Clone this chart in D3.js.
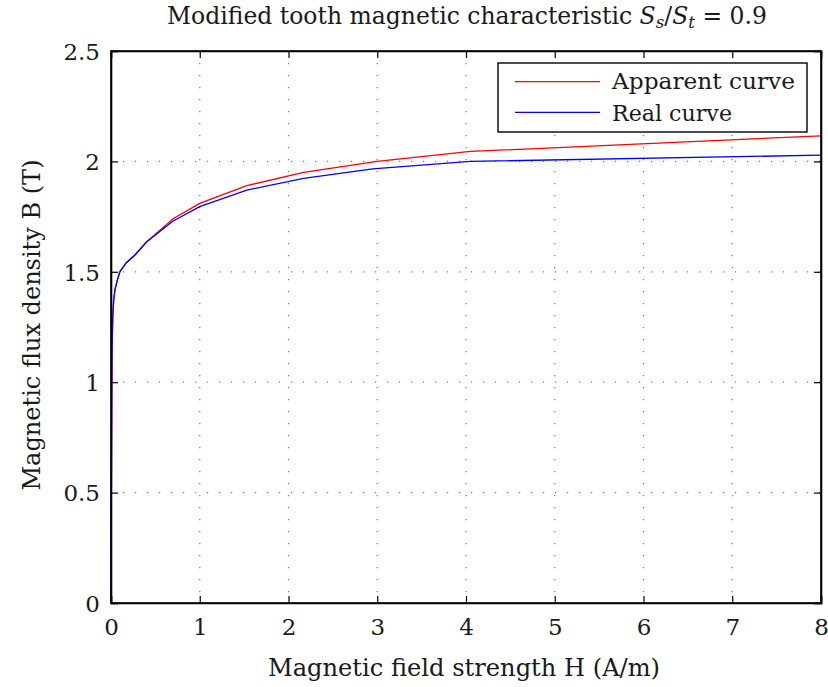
<!DOCTYPE html>
<html><head><meta charset="utf-8">
<script src="https://cdn.jsdelivr.net/npm/d3@7"></script>
<style>body{margin:0;background:#fff}</style>
</head><body><svg id="c" width="828" height="687"></svg>
<script>
const xTicks = [0,1,2,3,4,5,6,7,8];
const yTicks = [0,0.5,1,1.5,2,2.5];
const yTickLabels = ["0","0.5","1","1.5","2","2.5"];
const apparentH = [0,0.004,0.008,0.012,0.02,0.03,0.045,0.07,0.1,0.17,0.27,0.4,0.7,1.0,1.53,2.17,3.0,4.05,8];
const apparentB = [0,0.5,0.9,1.15,1.3,1.37,1.42,1.46,1.5,1.54,1.576,1.635,1.74,1.81,1.89,1.95,2.0,2.045,2.116];
const realH = [0,0.004,0.008,0.012,0.02,0.03,0.045,0.07,0.1,0.17,0.27,0.4,0.7,1.0,1.53,2.17,2.95,4.05,8];
const realB = [0,0.5,0.9,1.15,1.3,1.37,1.42,1.46,1.5,1.54,1.576,1.635,1.73,1.795,1.87,1.923,1.966,2.0,2.028];

const FF = "DejaVu Serif";
const TC = "#1a1a1a";
const svg = d3.select("#c").style("font-family",FF);
const L=111,R=821,T=51,B=603;
const x = d3.scaleLinear().domain([0,8]).range([L,R]);
const y = d3.scaleLinear().domain([0,2.5]).range([B,T]);

// grid
const g = svg.append("g");
xTicks.slice(1,-1).forEach(v=>g.append("line").attr("x1",x(v)).attr("x2",x(v)).attr("y1",T).attr("y2",B)
  .attr("stroke","#777").attr("stroke-width",1.2).attr("stroke-dasharray","1.2,10.8"));
yTicks.slice(1,-1).forEach(v=>g.append("line").attr("x1",L).attr("x2",R).attr("y1",y(v)).attr("y2",y(v))
  .attr("stroke","#777").attr("stroke-width",1.2).attr("stroke-dasharray","1.2,10.8"));

// axes with inward ticks
const tl=7;
const ax1 = svg.append("g").attr("transform",`translate(0,${B})`).call(d3.axisBottom(x).tickValues(xTicks).tickSize(-tl).tickFormat(d3.format("d")));
ax1.selectAll(".tick text").attr("y",32).attr("dy",0);
svg.append("g").attr("transform",`translate(0,${T})`).call(d3.axisTop(x).tickValues(xTicks).tickSize(-tl).tickFormat(""));
const ay1 = svg.append("g").attr("transform",`translate(${L},0)`).call(d3.axisLeft(y).tickValues(yTicks).tickSize(-tl).tickFormat((d,i)=>yTickLabels[i]));
ay1.selectAll(".tick text").attr("x",-11).attr("dy","0.36em");
svg.append("g").attr("transform",`translate(${R},0)`).call(d3.axisRight(y).tickValues(yTicks).tickSize(-tl).tickFormat(""));
svg.selectAll("g").attr("font-family",FF);
svg.selectAll(".domain").attr("stroke","#000").attr("stroke-width",1.6);
svg.selectAll(".tick line").attr("stroke","#000").attr("stroke-width",1.2);
svg.selectAll(".tick text").attr("font-size",23).attr("fill",TC);

const line = d3.line().x(d=>x(d[0])).y(d=>y(d[1]));
svg.append("path").datum(apparentH.map((h,i)=>[h,apparentB[i]])).attr("d",line).attr("fill","none").attr("stroke","#ff0000").attr("stroke-width",1.3);
svg.append("path").datum(realH.map((h,i)=>[h,realB[i]])).attr("d",line).attr("fill","none").attr("stroke","#0000ff").attr("stroke-width",1.3);
svg.append("rect").attr("x",L).attr("y",T).attr("width",R-L).attr("height",B-T).attr("fill","none").attr("stroke","#000").attr("stroke-width",1.6);

// legend
svg.append("rect").attr("x",498).attr("y",63).attr("width",309).attr("height",69).attr("fill","#fff").attr("stroke","#000").attr("stroke-width",1.4);
[["Apparent curve","#ff0000",81.7,89,183],["Real curve","#0000ff",112.3,121,120]].forEach(([t,c,yy,by,w])=>{
  svg.append("line").attr("x1",515).attr("x2",600).attr("y1",yy).attr("y2",yy).attr("stroke",c).attr("stroke-width",1.3);
  svg.append("text").attr("x",612).attr("y",by).attr("font-size",23).attr("fill",TC)
    .attr("textLength",w).attr("lengthAdjust","spacingAndGlyphs").text(t);
});

// title
const tt = svg.append("text").attr("x",467).attr("y",24).attr("text-anchor","middle").attr("font-size",21).attr("fill",TC);
tt.append("tspan").text("Modified tooth magnetic characteristic ");
tt.append("tspan").attr("font-style","italic").text("S");
tt.append("tspan").attr("font-style","italic").attr("font-size",15).attr("dy",4).text("s");
tt.append("tspan").attr("dy",-4).text("/");
tt.append("tspan").attr("font-style","italic").text("S");
tt.append("tspan").attr("font-style","italic").attr("font-size",15).attr("dy",4).text("t");
tt.append("tspan").attr("dy",-4).text(" = 0.9");
const tw = tt.node().getComputedTextLength();
if (tw>0) { const k = 600/tw; tt.attr("font-size",21*k); tt.selectAll("tspan").filter(function(){return this.getAttribute("font-size");}).attr("font-size",15*k); }

svg.append("text").attr("x",464).attr("y",676).attr("text-anchor","middle").attr("font-size",24).attr("fill",TC)
  .attr("textLength",392).attr("lengthAdjust","spacingAndGlyphs").text("Magnetic field strength H (A/m)");
svg.append("text").attr("transform","translate(40,325) rotate(-90)").attr("text-anchor","middle").attr("font-size",24).attr("fill",TC)
  .attr("textLength",331).attr("lengthAdjust","spacingAndGlyphs").text("Magnetic flux density B (T)");
</script></body></html>
